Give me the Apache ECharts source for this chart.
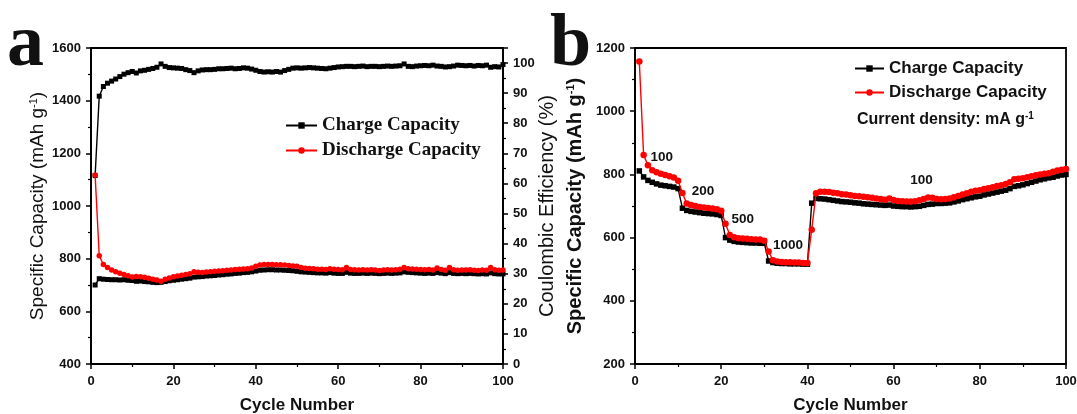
<!DOCTYPE html>
<html>
<head>
<meta charset="utf-8">
<script src="https://cdn.jsdelivr.net/npm/echarts@6/dist/echarts.min.js"></script>
<style>
  html, body { margin: 0; padding: 0; background: #fff; }
  #chart { width: 1077px; height: 414px; }
</style>
</head>
<body>
<div id="chart"></div>
<script>
// cycle numbers 1..100 (x values shared by every series)
const cycles = Array.from({ length: 100 }, (_, i) => i + 1);

// panel a: cycling at constant current (mAh g-1) and coulombic efficiency (%)
const chargeA = [
  700, 724, 722, 721, 720, 720, 719, 720, 718, 717,
  714, 715, 713, 712, 710, 709, 710, 713, 716, 718,
  720, 722, 724, 726, 730, 731, 732, 734, 735, 736,
  738, 739, 741, 742, 744, 745, 747, 748, 750, 753,
  756, 757, 758, 758, 757, 757, 756, 755, 754, 752,
  750, 749, 748, 747, 746, 746, 745, 747, 745, 744,
  744, 748, 745, 744, 744, 745, 744, 745, 744, 743,
  744, 745, 744, 745, 746, 750, 748, 747, 746, 745,
  744, 745, 744, 747, 745, 743, 747, 744, 743, 744,
  743, 744, 743, 742, 743, 742, 746, 743, 742, 742
];
const dischargeA = [
  1118, 811, 778, 766, 757, 750, 745, 740, 735, 730,
  732, 731, 729, 726, 722, 719, 714, 722, 727, 731,
  734, 737, 740, 743, 750, 748, 747, 749, 750, 752,
  753, 754, 756, 757, 759, 760, 761, 762, 765, 771,
  776, 778, 778, 778, 777, 777, 776, 774, 772, 771,
  766, 764, 763, 762, 760, 760, 759, 762, 760, 759,
  758, 766, 759, 758, 757, 758, 757, 758, 757, 755,
  757, 758, 757, 758, 760, 766, 762, 761, 760, 759,
  758, 759, 757, 765, 759, 756, 766, 758, 756, 757,
  757, 758, 756, 755, 757, 756, 766, 758, 756, 757
];
const efficiencyA = [
  62.6, 89.0, 92.2, 93.3, 94.0, 94.7, 95.5, 96.3, 96.8, 97.2,
  96.7, 97.4, 97.6, 97.9, 98.2, 98.6, 99.7, 98.9, 98.5, 98.4,
  98.3, 98.2, 97.8, 97.5, 96.8, 97.4, 97.7, 97.8, 97.8, 97.9,
  98.1, 98.1, 98.2, 98.3, 98.1, 98.2, 98.4, 98.3, 98.0, 97.6,
  97.2, 97.0, 97.1, 97.0, 97.2, 97.0, 97.5, 97.9, 98.3, 98.4,
  98.3, 98.4, 98.5, 98.4, 98.3, 98.2, 98.1, 98.3, 98.5, 98.7,
  98.8, 98.9, 98.9, 98.8, 98.9, 99.0, 98.8, 98.9, 98.9, 98.8,
  98.9, 99.0, 98.9, 99.0, 99.1, 99.7, 98.9, 98.8, 99.0, 99.1,
  99.2, 99.1, 99.3, 99.0, 98.9, 98.7, 98.8, 99.0, 99.3, 99.2,
  99.1, 99.2, 99.0, 99.2, 99.1, 99.3, 98.6, 98.8, 98.7, 99.5
];

// panel b: rate capability (mAh g-1)
const chargeB = [
  811, 792, 781, 775, 770, 766, 764, 762, 760, 755,
  693, 686, 683, 681, 679, 677, 676, 675, 673, 670,
  600, 592, 588, 586, 585, 584, 583, 583, 582, 582,
  526, 521, 519, 518, 518, 517, 517, 517, 516, 516,
  709, 724, 723, 722, 720, 718, 716, 714, 713, 712,
  710, 709, 707, 706, 705, 704, 703, 702, 703, 700,
  699, 698, 698, 697, 698, 699, 702, 705, 706, 708,
  708, 709, 710, 713, 716, 720, 723, 726, 729, 731,
  735, 738, 741, 744, 747, 750, 755, 762, 764, 767,
  771, 775, 779, 783, 786, 789, 791, 795, 798, 800
];
const dischargeB = [
  1157, 861, 829, 813, 807, 802, 798, 794, 790, 780,
  741, 708, 703, 700, 697, 695, 694, 692, 690, 685,
  644, 608, 601, 598, 597, 596, 595, 594, 594, 590,
  556, 528, 524, 523, 522, 522, 521, 521, 520, 520,
  625, 740, 745, 745, 744, 742, 740, 737, 736, 734,
  732, 731, 729, 728, 726, 724, 722, 720, 724, 719,
  716, 715, 714, 714, 715, 718, 722, 727, 726, 722,
  721, 722, 724, 728, 732, 736, 740, 745, 748, 750,
  754, 756, 759, 763, 766, 770, 775, 785, 786, 788,
  791, 794, 797, 800, 802, 804, 808, 812, 815, 817
];

// current density annotations in panel b (mA g-1)
const rateText = ['100', '200', '500', '1000', '100'];
const rateCycle = [6.2, 15.8, 25, 35.5, 66.5];
const rateCapacity = [853, 746, 657, 577, 781];

const sans = 'Liberation Sans, Arial, sans-serif';
const serif = 'Liberation Serif, Times New Roman, serif';

const chart = echarts.init(document.getElementById('chart'));

function pairs(arr) {
  return arr.map((v, i) => [cycles[i], v]);
}

const tickLabel = {
  color: '#111', fontFamily: sans, fontWeight: 'bold', fontSize: 13, margin: 10,
  formatter: v => (v > 100 && v < 110 ? '' : String(v))
};

// shared axis look: black frame, outward ticks, bold tick labels
function axisStyle(extra) {
  return Object.assign({
    type: 'value',
    splitLine: { show: false },
    axisLine: { show: true, onZero: false, lineStyle: { color: '#000', width: 1.8 } },
    axisTick: { show: true, length: 5, lineStyle: { color: '#000', width: 1.5 } },
    minorTick: { show: true, splitNumber: 2, length: 3, lineStyle: { color: '#000', width: 1.2 } },
    axisLabel: tickLabel,
    nameLocation: 'middle',
    nameMoveOverlap: false
  }, extra);
}

const supRich = {
  sup: { fontSize: 11, verticalAlign: 'top', lineHeight: 20 }
};

function lineSeries(name, data, x, y, color, symbol, size, z) {
  return {
    name: name,
    type: 'line',
    xAxisIndex: x,
    yAxisIndex: y,
    data: pairs(data),
    symbol: symbol,
    symbolSize: size,
    showAllSymbol: true,
    lineStyle: { color: color, width: 1.4 },
    itemStyle: { color: color },
    z: z,
    silent: true
  };
}

const option = {
  animation: false,
  backgroundColor: '#fff',
  grid: [
    {
      left: 91, top: 48, width: 412, height: 316, outerBoundsMode: 'none',
      show: true, borderColor: '#000', borderWidth: 1.8
    },
    {
      left: 635, top: 48, width: 431, height: 316, outerBoundsMode: 'none',
      show: true, borderColor: '#000', borderWidth: 1.8
    }
  ],
  legend: [
    {
      orient: 'vertical', left: 285, top: 116, padding: 0,
      itemWidth: 31, itemHeight: 8, itemGap: 6,
      data: ['Charge Capacity', 'Discharge Capacity'],
      textStyle: { fontFamily: serif, fontWeight: 'bold', fontSize: 19, color: '#111' },
      selectedMode: false
    },
    {
      orient: 'vertical', left: 854, top: 60, padding: 0,
      itemWidth: 29, itemHeight: 8, itemGap: 7,
      data: ['Charge Capacity', 'Discharge Capacity'],
      textStyle: { fontFamily: sans, fontWeight: 'bold', fontSize: 17, color: '#111' },
      selectedMode: false
    }
  ],
  xAxis: [
    axisStyle({
      gridIndex: 0, min: 0, max: 100, interval: 20,
      axisLabel: Object.assign({}, tickLabel, { margin: 11 }),
      name: 'Cycle Number', nameGap: 33,
      nameTextStyle: { fontFamily: sans, fontWeight: 'bold', fontSize: 17, color: '#111' }
    }),
    axisStyle({
      gridIndex: 1, min: 0, max: 100, interval: 20,
      axisLabel: Object.assign({}, tickLabel, { margin: 11 }),
      name: 'Cycle Number', nameGap: 33,
      nameTextStyle: { fontFamily: sans, fontWeight: 'bold', fontSize: 17, color: '#111' }
    })
  ],
  yAxis: [
    axisStyle({
      gridIndex: 0, min: 400, max: 1600, interval: 200,
      name: 'Specific Capacity (mAh g{sup|-1})', nameGap: 43,
      nameTextStyle: { fontFamily: sans, fontSize: 19, color: '#111', rich: supRich }
    }),
    axisStyle({
      gridIndex: 0, position: 'right', min: 0, max: 105, interval: 10,
      name: 'Coulombic Efficiency (%)', nameGap: 34,
      nameTextStyle: { fontFamily: sans, fontSize: 20, color: '#111' }
    }),
    axisStyle({
      gridIndex: 1, min: 200, max: 1200, interval: 200,
      name: 'Specific Capacity (mAh g{sup|-1})', nameGap: 50,
      nameTextStyle: { fontFamily: sans, fontWeight: 'bold', fontSize: 20, color: '#111', rich: supRich }
    })
  ],
  series: [
    lineSeries('Charge Capacity', chargeA, 0, 0, '#000', 'rect', 5, 2),
    lineSeries('Coulombic Efficiency', efficiencyA, 0, 1, '#000', 'rect', 5, 2),
    lineSeries('Discharge Capacity', dischargeA, 0, 0, '#ff0000', 'circle', 5.5, 3),
    lineSeries('Charge Capacity', chargeB, 1, 2, '#000', 'rect', 5.5, 2),
    lineSeries('Discharge Capacity', dischargeB, 1, 2, '#ff0000', 'circle', 6.5, 3),
    {
      name: 'rate',
      type: 'scatter',
      xAxisIndex: 1,
      yAxisIndex: 2,
      symbolSize: 0,
      silent: true,
      itemStyle: { opacity: 1 },
      data: rateText.map((t, i) => ({ name: t, value: [rateCycle[i], rateCapacity[i]] })),
      label: {
        show: true, position: 'inside', formatter: '{b}', opacity: 1,
        fontFamily: sans, fontWeight: 'bold', fontSize: 13.5, color: '#111'
      },
      z: 5
    }
  ],
  graphic: [
    {
      type: 'text', left: 7, top: 9,
      style: { text: 'a', font: 'bold 74px ' + serif, fill: '#111' }
    },
    {
      type: 'text', left: 550, top: 9,
      style: { text: 'b', font: 'bold 74px ' + serif, fill: '#111' }
    },
    {
      type: 'text', left: 857, top: 111,
      style: {
        text: 'Current density: mA g{sup|-1}',
        font: 'bold 16px ' + sans,
        fill: '#111',
        rich: { sup: { fontSize: 10, verticalAlign: 'top', lineHeight: 18, fontFamily: sans, fontWeight: 'bold' } }
      }
    }
  ]
};

chart.setOption(option);
</script>
</body>
</html>
